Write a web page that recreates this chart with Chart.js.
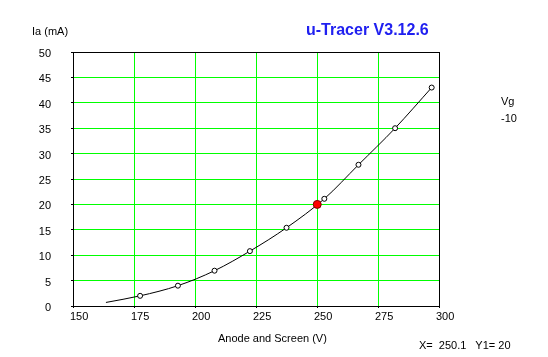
<!DOCTYPE html>
<html>
<head>
<meta charset="utf-8">
<script src="https://cdn.jsdelivr.net/npm/chart.js@4"></script>
<style>
  html, body { margin: 0; padding: 0; background: #fff; }
  #wrap { position: relative; width: 548px; height: 357px; overflow: hidden; background: #fff; }
  canvas { position: absolute; left: 0; top: 0; }
  .t { position: absolute; font-family: "Liberation Sans", Arial, sans-serif; font-size: 11px; color: #000; white-space: pre; line-height: 12px; }
  #title { font-size: 16px; font-weight: bold; color: #2020f0; line-height: 18px; }
</style>
</head>
<body>
<div id="wrap">
  <canvas id="c" width="548" height="357"></canvas>
  <div class="t" id="title" style="left:306px; top:21px;">u-Tracer V3.12.6</div>
  <div class="t" style="left:32px; top:25px;">Ia (mA)</div>
  <div class="t" style="left:501px; top:95px;">Vg</div>
  <div class="t" style="left:501px; top:112px;">-10</div>
  <div class="t" style="left:218px; top:332px;">Anode and Screen (V)</div>
  <div class="t" style="left:419px; top:339px;">X=  250.1   Y1= 20</div>
</div>
<script>
// ---- data ----
const curveV = [163.5, 177.5, 193.0, 208.0, 222.5, 237.5, 253.0, 267.0, 282.0, 297.0];
const curveI = [0.7, 2.0, 4.0, 6.95, 10.8, 15.4, 21.1, 27.8, 35.0, 43.0];
const markerV = [177.5, 193.0, 208.0, 222.5, 237.5, 253.0, 267.0, 282.0, 297.0];
const markerI = [2.0, 4.0, 6.95, 10.8, 15.4, 21.1, 27.8, 35.0, 43.0];
const cursorV = [250.1];
const cursorI = [20];
const xTicks = [150, 175, 200, 225, 250, 275, 300];
const yTicks = [0, 5, 10, 15, 20, 25, 30, 35, 40, 45, 50];

const toPts = (xs, ys) => xs.map((x, i) => ({ x: x, y: ys[i] }));

const FONT = '11px "Liberation Sans", Arial, sans-serif';

const framePlugin = {
  id: 'frame',
  beforeDatasetsDraw(chart) {
    const { ctx, chartArea: a } = chart;
    ctx.save();
    ctx.strokeStyle = '#000';
    ctx.lineWidth = 1;
    ctx.strokeRect(Math.round(a.left) + 0.5, Math.round(a.top) + 0.5,
                   Math.round(a.right - a.left), Math.round(a.bottom - a.top));
    ctx.restore();
  },
  afterDraw(chart) {
    const { ctx } = chart;
    const xs = chart.scales.x, ys = chart.scales.y;
    ctx.save();
    ctx.font = FONT;
    ctx.fillStyle = '#000';
    ctx.textBaseline = 'middle';
    ctx.textAlign = 'left';
    xTicks.forEach(v => {
      ctx.fillText(String(v), xs.getPixelForValue(v) - 3, 317);
    });
    ctx.textAlign = 'right';
    yTicks.forEach(v => {
      ctx.fillText(String(v), 51, ys.getPixelForValue(v) + 2);
    });
    ctx.restore();
  }
};

new Chart(document.getElementById('c'), {
  type: 'scatter',
  data: {
    datasets: [
      {
        data: toPts(cursorV, cursorI),
        showLine: false,
        pointRadius: 4,
        pointBackgroundColor: '#ff0000',
        pointBorderColor: '#800000',
        pointBorderWidth: 1
      },
      {
        data: toPts(markerV, markerI),
        showLine: false,
        pointRadius: 2.5,
        pointStyle: 'circle',
        pointBackgroundColor: '#ffffff',
        pointBorderColor: '#000000',
        pointBorderWidth: 1
      },
      {
        data: toPts(curveV, curveI),
        showLine: true,
        borderColor: '#000000',
        borderWidth: 1,
        pointRadius: 0,
        cubicInterpolationMode: 'monotone',
        fill: false
      }
    ]
  },
  options: {
    responsive: false,
    animation: false,
    events: [],
    layout: { padding: { left: 0, top: 52, right: 109, bottom: 0 } },
    plugins: { legend: { display: false }, tooltip: { enabled: false }, title: { display: false } },
    scales: {
      x: {
        type: 'linear', min: 150, max: 300,
        afterBuildTicks: s => { s.ticks = xTicks.map(v => ({ value: v })); },
        afterFit: s => { s.height = 51; },
        ticks: { color: 'rgba(0,0,0,0)', font: { size: 11 } },
        grid: { color: '#00ff00', lineWidth: 1, drawTicks: true, tickLength: 2, tickColor: '#000' },
        border: { display: true, color: '#000' }
      },
      y: {
        type: 'linear', min: 0, max: 50,
        afterBuildTicks: s => { s.ticks = yTicks.map(v => ({ value: v })); },
        afterFit: s => { s.width = 73; },
        ticks: { color: 'rgba(0,0,0,0)', font: { size: 11 } },
        grid: { color: '#00ff00', lineWidth: 1, drawTicks: true, tickLength: 2, tickColor: '#000' },
        border: { display: true, color: '#000' }
      }
    }
  },
  plugins: [framePlugin]
});
</script>
</body>
</html>
